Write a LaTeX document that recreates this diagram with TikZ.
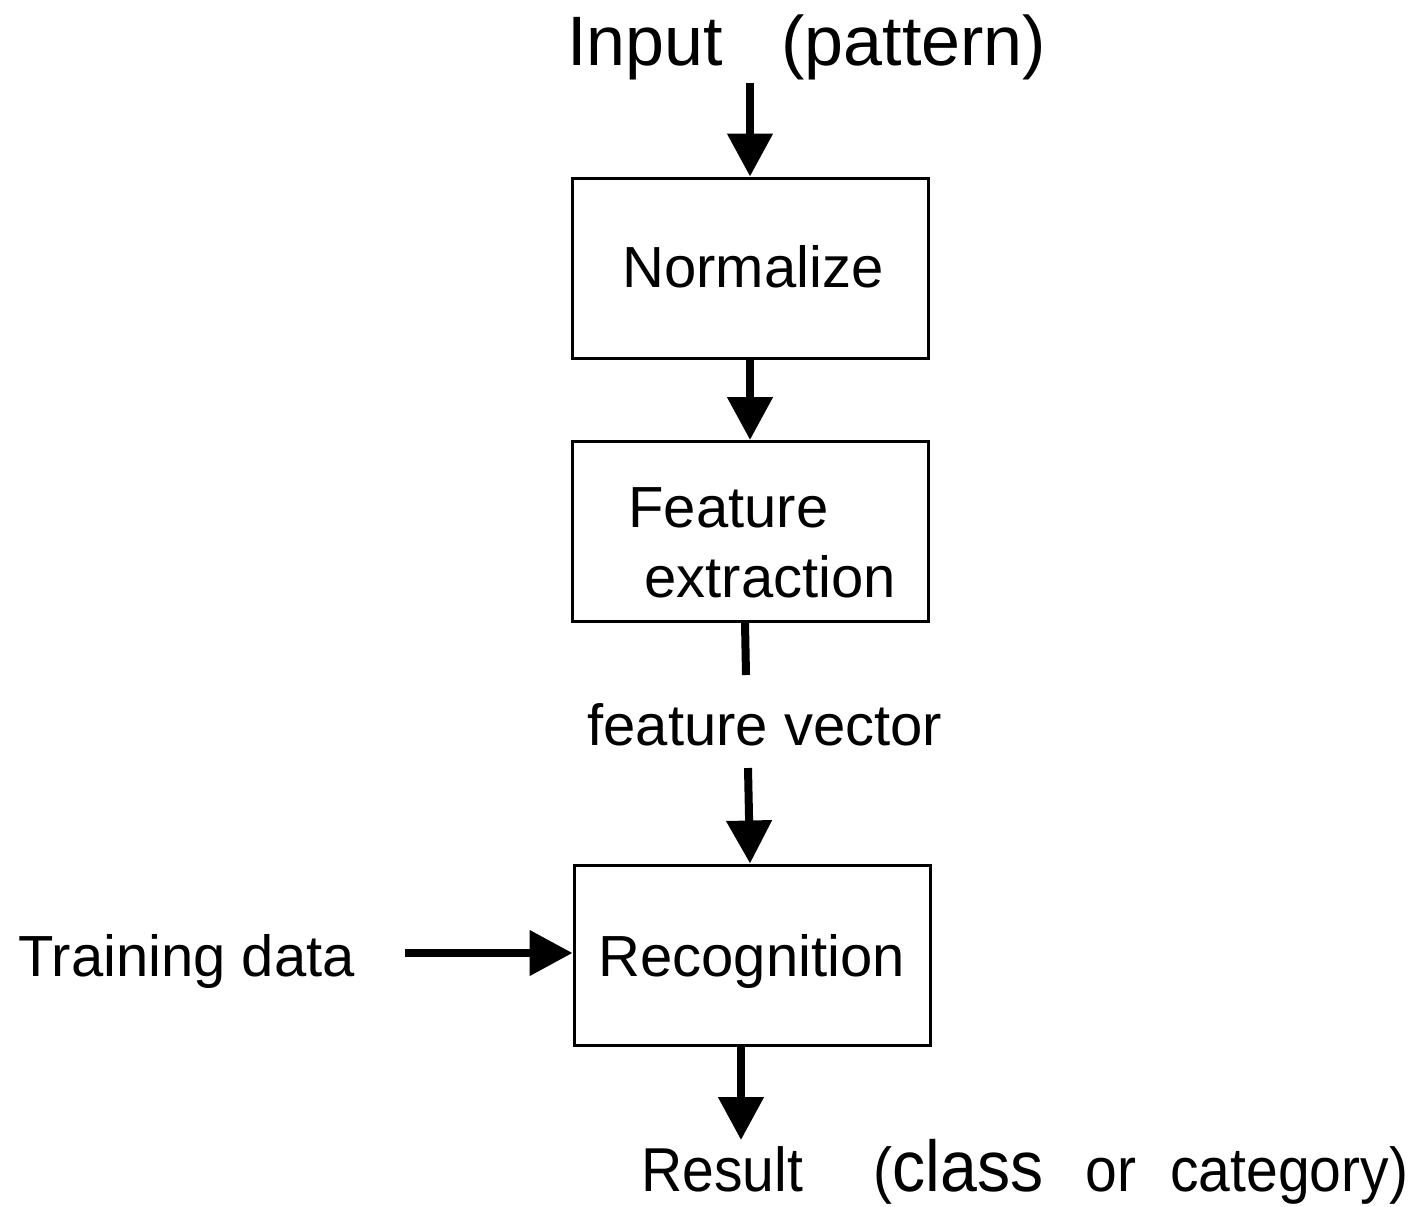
\documentclass[tikz,border=0pt]{standalone}
\usepackage{fontspec}
\setmainfont{Liberation Sans}
\usetikzlibrary{arrows.meta}

\begin{document}
\begin{tikzpicture}[x=0.5pt, y=-0.5pt,
    stage/.style={draw, line width=1.5pt, minimum width=178pt, minimum height=90pt, inner sep=0pt},
    lbl/.style={anchor=base west, inner sep=0pt, font=\fontsize{29pt}{35pt}\selectfont},
    tall/.style={anchor=base west, inner sep=0pt, xscale=0.92, font=\fontsize{31pt}{37pt}\selectfont},
    arr/.style={line width=4pt, -{Triangle[length=21.5pt,width=22pt]}}]
\useasboundingbox (0,0) rectangle (1420,1206);

% Boxes
\node[stage] (norm) at (750,268) {};
\node[stage] (feat) at (750,531.5) {};
\node[stage] (rec) at (752,955) {};

% Texts
\node[anchor=base west, inner sep=0pt, font=\fontsize{35pt}{42pt}\selectfont] (input) at (567,65) {Input};
\node[anchor=base west, inner sep=0pt, font=\fontsize{35pt}{42pt}\selectfont] (pattern) at (781,65) {(pattern)};
\node[lbl] (normtxt) at (622,287) {Normalize};
\node[lbl] (feattxt) at (628,527) {Feature};
\node[lbl] (extrtxt) at (644,597) {extraction};
\node[lbl] (fvec) at (587,745) {feature vector};
\node[lbl] (rectxt) at (598,976) {Recognition};
\node[lbl] (train) at (18,976) {Training data};
\node[tall] (result) at (641,1191) {Result};
\node[tall] (class) at (873,1191) {(\fontsize{36pt}{40pt}\selectfont class};
\node[tall] (or) at (1085,1191) {or};
\node[tall] (categ) at (1170,1191) {category)};

% Free ends
\coordinate (instart) at (750,83);
\coordinate (fvtop) at (746,675);
\coordinate (fvbot) at (748,768);
\coordinate (trstart) at (405,953);
\coordinate (recout) at (741,1046);
\coordinate (resend) at (741,1140);

% Arrows
\draw[arr] (instart) -- (norm.north);
\draw[arr] (norm.south) -- (feat.north);
\draw[line width=4pt] (feat.south -| 745,0) -- (fvtop);
\draw[arr] (fvbot) -- (rec.north -| 750,0);
\draw[arr] (trstart) -- (trstart -| rec.west);
\draw[arr] (recout) -- (resend);
\end{tikzpicture}
\end{document}
